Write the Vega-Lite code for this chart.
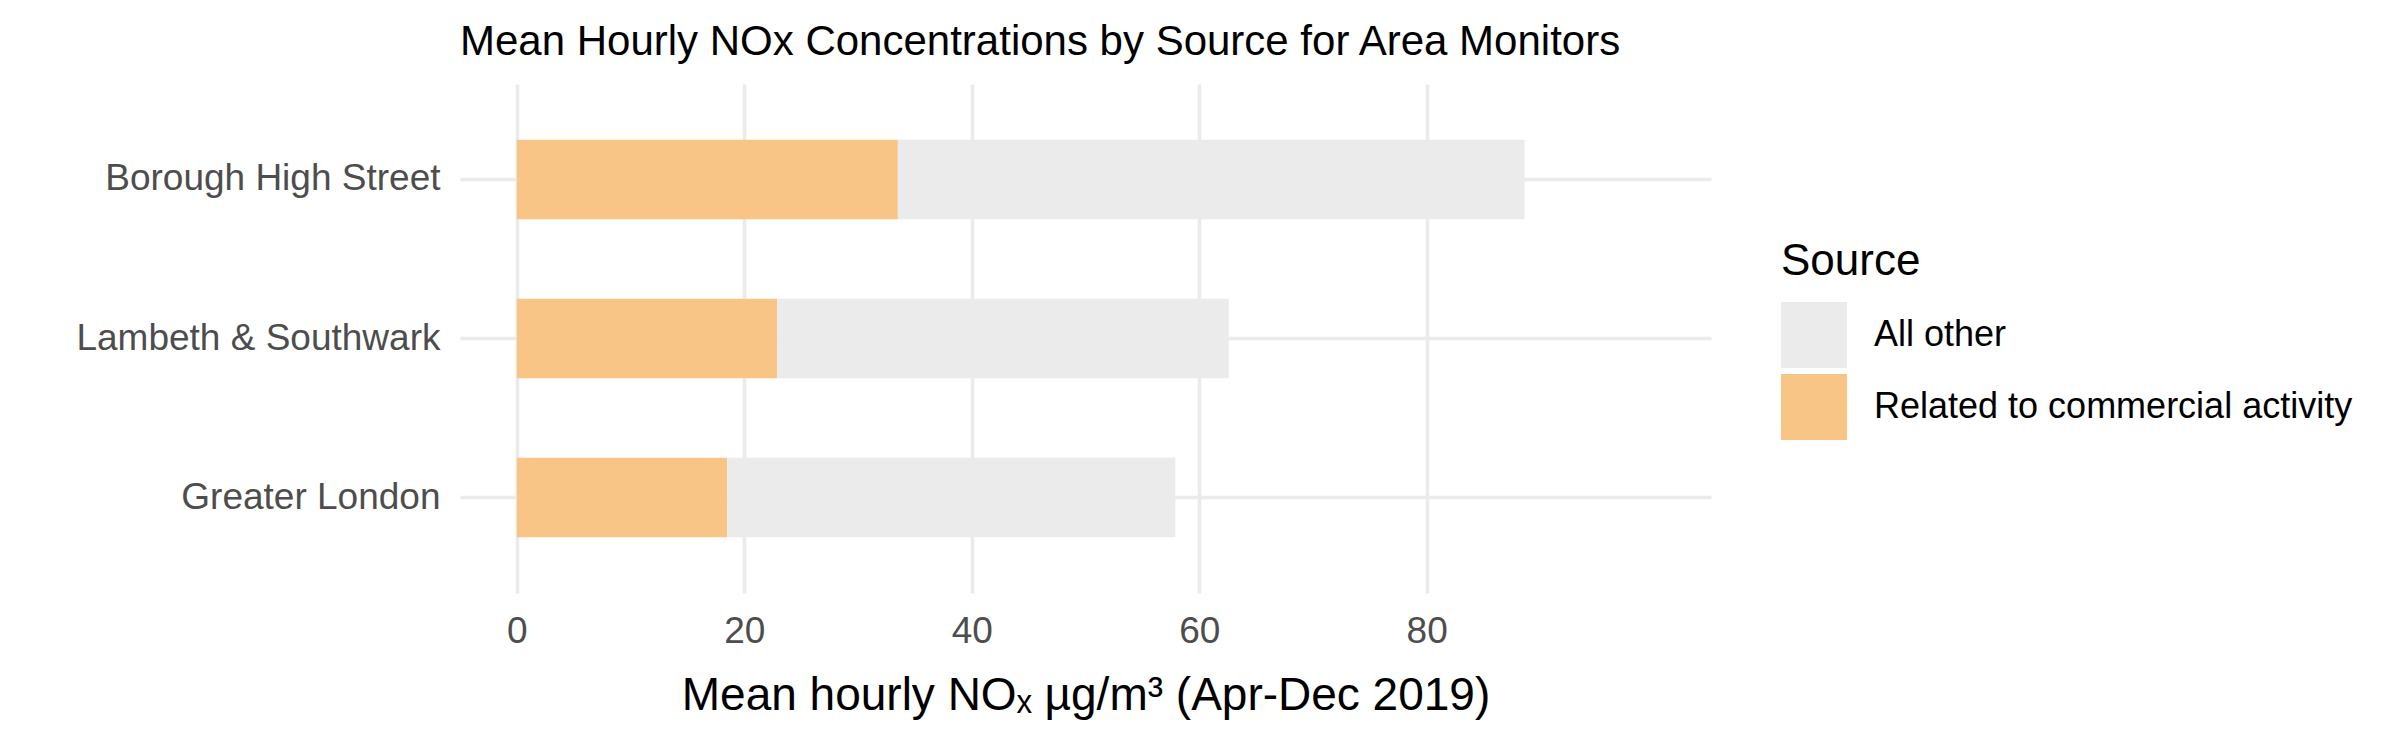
{
  "$schema": "https://vega.github.io/schema/vega-lite/v6.json",
  "autosize": {"type": "none"},
  "width": 1251,
  "height": 509,
  "padding": {"left": 460, "top": 84, "right": 689, "bottom": 157},
  "background": "white",
  "title": {
    "text": "Mean Hourly NOx Concentrations by Source for Area Monitors",
    "anchor": "start",
    "frame": "group",
    "fontSize": 42,
    "font": "Liberation Sans",
    "fontWeight": "normal",
    "color": "black",
    "offset": 20
  },
  "data": {
    "values": [
      {"site": "Borough High Street", "source": "Related to commercial activity", "value": 33.5},
      {"site": "Borough High Street", "source": "All other", "value": 55.1},
      {"site": "Lambeth & Southwark", "source": "Related to commercial activity", "value": 22.9},
      {"site": "Lambeth & Southwark", "source": "All other", "value": 39.7},
      {"site": "Greater London", "source": "Related to commercial activity", "value": 18.5},
      {"site": "Greater London", "source": "All other", "value": 39.4}
    ]
  },
  "mark": {"type": "bar"},
  "encoding": {
    "y": {
      "field": "site",
      "type": "nominal",
      "sort": ["Borough High Street", "Lambeth & Southwark", "Greater London"],
      "scale": {"paddingInner": 0.5, "paddingOuter": 0.35},
      "axis": {
        "title": null,
        "labelFontSize": 37,
        "labelColor": "#4D4D4D",
        "labelPadding": 20,
        "labelLimit": 0,
        "ticks": false,
        "domain": false,
        "grid": true,
        "bandPosition": 0.5,
        "gridColor": "#EBEBEB",
        "gridWidth": 3.6
      }
    },
    "x": {
      "field": "value",
      "type": "quantitative",
      "stack": "zero",
      "scale": {"domain": [-5, 105], "nice": false, "zero": false},
      "axis": {
        "values": [0, 20, 40, 60, 80],
        "title": "Mean hourly NOₓ µg/m³ (Apr-Dec 2019)",
        "titleFontSize": 46,
        "titleFontWeight": "normal",
        "titleColor": "black",
        "titlePadding": 24,
        "labelFontSize": 37,
        "labelColor": "#4D4D4D",
        "labelPadding": 20,
        "ticks": false,
        "domain": false,
        "grid": true,
        "gridColor": "#EBEBEB",
        "gridWidth": 3.6
      }
    },
    "color": {
      "field": "source",
      "type": "nominal",
      "scale": {
        "domain": ["All other", "Related to commercial activity"],
        "range": ["#EBEBEB", "#F9C587"]
      },
      "legend": {
        "orient": "none",
        "legendX": 1321,
        "legendY": 156,
        "title": "Source",
        "titleFontSize": 44,
        "titleFontWeight": "normal",
        "titleColor": "black",
        "titlePadding": 18,
        "labelFontSize": 36,
        "labelColor": "black",
        "labelLimit": 0,
        "symbolType": "square",
        "symbolSize": 4356,
        "symbolStrokeWidth": 0,
        "symbolOpacity": 1,
        "labelOffset": 27,
        "rowPadding": 6,
        "padding": 0
      }
    },
    "order": {"field": "source", "sort": "descending"}
  },
  "config": {
    "font": "Liberation Sans",
    "view": {"stroke": null}
  }
}
